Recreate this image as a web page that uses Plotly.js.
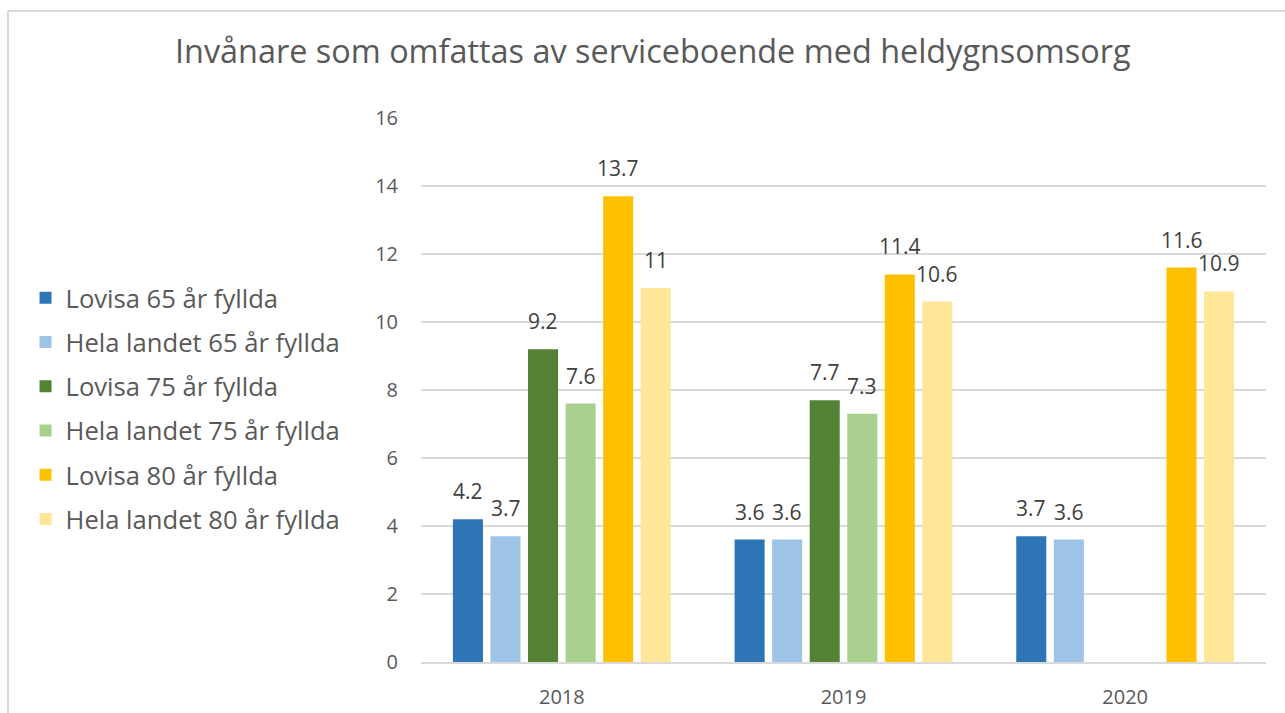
<!DOCTYPE html>
<html>
<head>
<meta charset="utf-8">
<script src="https://cdn.plot.ly/plotly-3.0.1.min.js"></script>
<style>
  html, body { margin: 0; padding: 0; background: #ffffff; }
  #chart { width: 1285px; height: 713px; }
</style>
</head>
<body>
<div id="chart"></div>
<script>
// ---- data ----
const years = ["2018", "2019", "2020"];
const seriesNames = [
  "Lovisa 65 år fyllda",
  "Hela landet 65 år fyllda",
  "Lovisa 75 år fyllda",
  "Hela landet 75 år fyllda",
  "Lovisa 80 år fyllda",
  "Hela landet 80 år fyllda"
];
const lovisa65 = [4.2, 3.6, 3.7];
const helaLandet65 = [3.7, 3.6, 3.6];
const lovisa75 = [9.2, 7.7, null];
const helaLandet75 = [7.6, 7.3, null];
const lovisa80 = [13.7, 11.4, 11.6];
const helaLandet80 = [11, 10.6, 10.9];
const yTicks = [0, 2, 4, 6, 8, 10, 12, 14, 16];

// ---- styles ----
const colors = ["#2E75B6", "#9DC3E6", "#548235", "#A9D18E", "#FFC000", "#FFE699"];
const allSeries = [lovisa65, helaLandet65, lovisa75, helaLandet75, lovisa80, helaLandet80];
const FONT = "'Open Sans', 'DejaVu Sans', sans-serif";
const BARGAP = 0.2;
const NSER = allSeries.length;

const traces = allSeries.map((vals, i) => ({
  type: "bar",
  name: seriesNames[i],
  x: years,
  y: vals,
  legendgroup: "g" + i,
  marker: { color: colors[i] },
  hoverinfo: "x+y+name"
}));

// data labels placed at bar centre (category index units) above each bar
const annotations = [];
allSeries.forEach((vals, i) => {
  const slot = (1 - BARGAP) / NSER;
  const offset = -(1 - BARGAP) / 2 + slot * (i + 0.5);
  vals.forEach((v, j) => {
    if (v === null || v === undefined) return;
    annotations.push({
      xref: "x", yref: "y",
      x: j + offset, y: v,
      text: String(v),
      showarrow: false,
      yanchor: "middle",
      yshift: 28,
      font: { family: FONT, size: 21, color: "#404040" }
    });
  });
});

const layout = {
  width: 1285,
  height: 713,
  paper_bgcolor: "#ffffff",
  plot_bgcolor: "#ffffff",
  margin: { l: 421, r: 19, t: 118, b: 51 },
  barmode: "group",
  bargap: BARGAP,
  bargroupgap: 0.2,
  title: {
    text: "Invånare som omfattas av serviceboende med heldygnsomsorg",
    font: { family: FONT, size: 32.4, color: "#595959" },
    xref: "container", x: 0.508, xanchor: "center",
    yref: "container", y: 0.928, yanchor: "middle"
  },
  xaxis: {
    type: "category",
    showgrid: false,
    showline: true,
    linecolor: "#D9D9D9",
    linewidth: 2,
    ticks: "",
    ticklabelstandoff: 16,
    tickfont: { family: FONT, size: 20, color: "#595959" },
    fixedrange: true
  },
  yaxis: {
    range: [0, 16],
    tickvals: yTicks,
    ticktext: yTicks.map(String),
    showgrid: true,
    gridcolor: "#D9D9D9",
    gridwidth: 1.5,
    zeroline: false,
    showline: false,
    ticks: "",
    ticklabelstandoff: 22,
    tickfont: { family: FONT, size: 20, color: "#595959" },
    fixedrange: true
  },
  showlegend: true,
  legend: {
    x: -0.468, xanchor: "left",
    y: 0.466, yanchor: "middle",
    orientation: "v",
    tracegroupgap: 8,
    font: { family: FONT, size: 25.6, color: "#595959" },
    bgcolor: "rgba(0,0,0,0)",
    itemclick: false, itemdoubleclick: false
  },
  annotations: annotations,
  shapes: [
    { type: "line", xref: "paper", yref: "paper",
      x0: (8 - 421) / 845, x1: 1.03, y0: (662 - 11) / 544, y1: (662 - 11) / 544,
      line: { color: "#D9D9D9", width: 2 } },
    { type: "line", xref: "paper", yref: "paper",
      x0: (8 - 421) / 845, x1: (8 - 421) / 845, y0: (662 - 11) / 544, y1: -0.2,
      line: { color: "#D9D9D9", width: 2 } }
  ]
};

Plotly.newPlot("chart", traces, layout, { displayModeBar: false, staticPlot: true });
</script>
</body>
</html>
